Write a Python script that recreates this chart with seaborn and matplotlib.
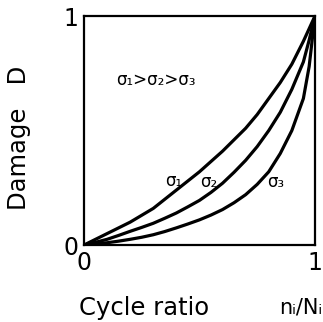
import matplotlib
matplotlib.use("Agg")
import matplotlib.pyplot as plt
import seaborn as sns
import pandas as pd

# data
cycle_ratio = [0, 0.05, 0.1, 0.15, 0.2, 0.25, 0.3, 0.35, 0.4, 0.45, 0.5, 0.55,
               0.6, 0.65, 0.7, 0.75, 0.8, 0.85, 0.9, 0.95, 0.975, 1.0]
damage_s1 = [0, 0.025, 0.05, 0.075, 0.10, 0.13, 0.16, 0.20, 0.24, 0.28, 0.32, 0.365,
             0.41, 0.46, 0.51, 0.57, 0.64, 0.71, 0.79, 0.89, 0.945, 1.0]
damage_s2 = [0, 0.012, 0.025, 0.042, 0.06, 0.077, 0.095, 0.117, 0.14, 0.167, 0.195, 0.23,
             0.27, 0.318, 0.37, 0.43, 0.50, 0.58, 0.68, 0.80, 0.895, 1.0]
damage_s3 = [0, 0.005, 0.01, 0.017, 0.025, 0.034, 0.045, 0.059, 0.075, 0.092, 0.11, 0.131,
             0.155, 0.185, 0.22, 0.265, 0.32, 0.40, 0.50, 0.64, 0.78, 1.0]
series_names = ["s1", "s2", "s3"]
series_labels = ["σ₁", "σ₂", "σ₃"]
x_ticks = [0, 1]
y_ticks = [0, 1]

df = pd.DataFrame({
    "x": cycle_ratio * 3,
    "D": damage_s1 + damage_s2 + damage_s3,
    "s": [n for n in series_names for _ in cycle_ratio],
})

sns.set_theme(style="white")
plt.rcParams["font.family"] = ["DejaVu Sans"]
plt.rcParams["text.color"] = "black"
plt.rcParams["axes.labelcolor"] = "black"
plt.rcParams["xtick.color"] = "black"
plt.rcParams["ytick.color"] = "black"

fig = plt.figure(figsize=(3.23, 3.22), dpi=100)
ax = fig.add_axes([0.26, 0.239, 0.715, 0.711])

sns.lineplot(data=df, x="x", y="D", hue="s", palette=["black"] * 3,
             linewidth=2.3, legend=False, ax=ax, sort=True)

ax.set_xlim(0, 1)
ax.set_ylim(0, 1)
ax.set_xticks(x_ticks)
ax.set_yticks(y_ticks)
ax.set_xticklabels([str(t) for t in x_ticks], fontsize=17)
ax.set_yticklabels([str(t) for t in y_ticks], fontsize=17)
ax.tick_params(axis="both", length=0, pad=4)
for sp in ax.spines.values():
    sp.set_color("black")
    sp.set_linewidth(1.6)

ax.set_xlabel("")
ax.set_ylabel("Damage   D", fontsize=17.5)
ax.yaxis.set_label_coords(-0.23, 0.47)

fig.text(0.445, 0.045, "Cycle ratio", fontsize=17.5, ha="center", va="center")
fig.text(0.997, 0.045, "nᵢ/Nᵢ", fontsize=15, ha="right", va="center")

# curve labels
label_pos = [(0.39, 0.28), (0.54, 0.275), (0.83, 0.275)]
for (lx, ly), lab in zip(label_pos, series_labels):
    ax.text(lx, ly, lab, fontsize=12, ha="center", va="center")
ax.text(0.31, 0.72, "σ₁>σ₂>σ₃", fontsize=12, ha="center", va="center")

fig.savefig("out.png", dpi=100)
